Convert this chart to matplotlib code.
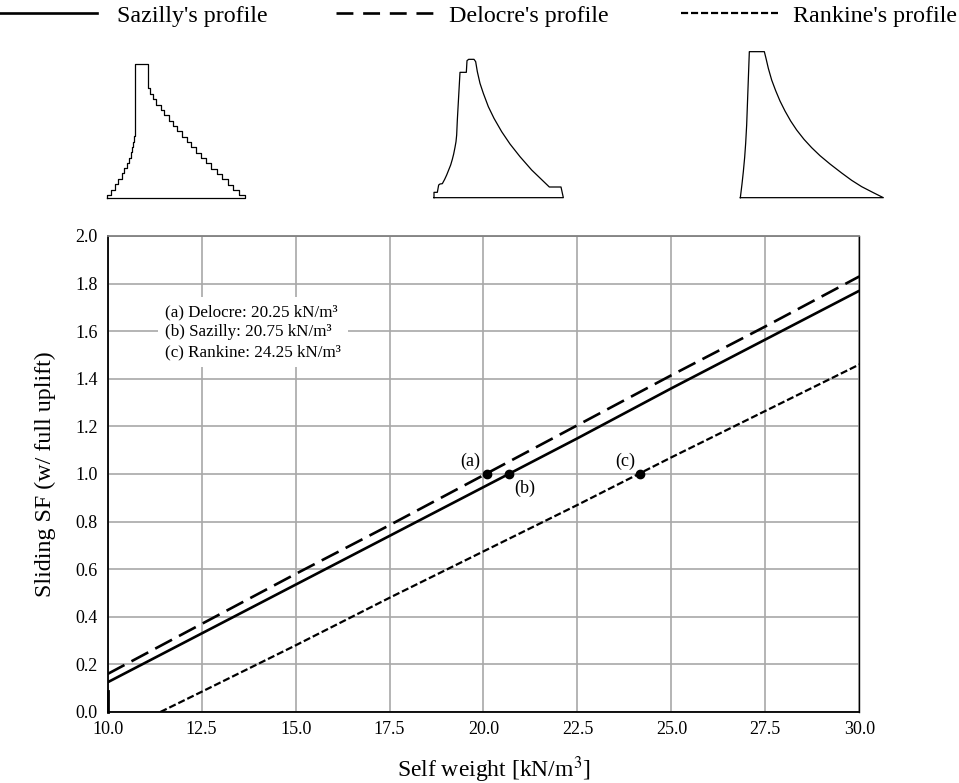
import matplotlib
matplotlib.use('Agg')
import matplotlib.pyplot as plt
from matplotlib.lines import Line2D

plt.rcParams['font.family'] = ['Liberation Serif', 'DejaVu Serif']

W, H = 959, 783

self_weight = [10.0, 12.5, 15.0, 17.5, 20.0, 22.5, 25.0, 27.5, 30.0]
sazilly_sf = [0.125, 0.33, 0.535, 0.74, 0.945, 1.15, 1.36, 1.565, 1.77]
delocre_sf = [0.16, 0.37, 0.58, 0.785, 0.995, 1.205, 1.415, 1.62, 1.83]
rankine_sf = [0.0, 0.085, 0.28, 0.48, 0.675, 0.87, 1.07, 1.265, 1.46]
rankine_weight = [11.4, 12.5, 15.0, 17.5, 20.0, 22.5, 25.0, 27.5, 30.0]
stub_x = [10.0, 10.0]
stub_y = [0.0, 0.09]

point_x = [20.1, 20.67, 24.16]
point_y = [1.0, 1.0, 1.0]
point_labels = ['(a)', '(b)', '(c)']

x_ticks = [10.0, 12.5, 15.0, 17.5, 20.0, 22.5, 25.0, 27.5, 30.0]
y_ticks = [0.0, 0.2, 0.4, 0.6, 0.8, 1.0, 1.2, 1.4, 1.6, 1.8, 2.0]

note_lines = ['(a) Delocre: 20.25 kN/m³', '(b) Sazilly: 20.75 kN/m³', '(c) Rankine: 24.25 kN/m³']
series_names = ["Sazilly's profile", "Delocre's profile", "Rankine's profile"]

# dam outlines (crop coordinates)
sazilly_x = [52, 52, 64, 64, 74, 74, 85, 85, 95, 95, 102, 102, 110, 110, 118, 118, 123, 123, 127, 127,
             130, 130, 133, 133, 135, 135, 175, 175, 181, 181, 190, 190, 199, 199, 212, 212, 223, 223,
             236, 236, 248, 248, 262, 262, 275, 275, 290, 290, 304, 304, 319, 319, 334, 334, 349, 349,
             364, 364, 380, 380, 397, 397, 413, 413, 429, 429, 446, 446, 465, 465, 52]
sazilly_y = [473, 466, 466, 450, 450, 433, 433, 417, 417, 400, 400, 385, 385, 369, 369, 353, 353, 337, 337, 321,
             321, 305, 305, 289, 289, 73, 73, 145, 145, 161, 161, 178, 178, 194, 194, 210, 210, 226,
             226, 242, 242, 258, 258, 274, 274, 290, 290, 306, 306, 322, 322, 338, 338, 354, 354, 370,
             370, 386, 386, 402, 402, 418, 418, 434, 434, 450, 450, 466, 466, 473, 473]
delocre_x = [42, 42, 52, 56, 60, 67, 74, 80, 86, 92, 97, 101, 105, 108, 110, 112, 120, 139, 141, 146, 162,
             167, 172, 180, 190, 205, 222, 245, 270, 300, 335, 388, 423, 430, 42]
delocre_y = [473, 457, 457, 435, 432, 431, 418, 405, 390, 375, 358, 342, 322, 305, 285, 240, 97, 97, 62, 58, 58,
             65, 95, 130, 160, 200, 235, 275, 312, 350, 390, 441, 441, 473, 473]
rankine_x = [31, 36, 40, 44, 47, 50, 52, 58, 103, 108, 115, 125, 137, 150, 165, 182, 200, 222, 245, 270,
             300, 335, 365, 395, 430, 460, 31]
rankine_y = [473, 432, 395, 352, 310, 255, 200, 35, 35, 55, 85, 120, 152, 183, 213, 243, 270, 298, 323, 347,
             372, 399, 421, 440, 458, 473, 473]


def px_axes(fig, left, top, width, height):
    return fig.add_axes([left / W, 1 - (top + height) / H, width / W, height / H])


fig = plt.figure(figsize=(W / 100, H / 100), dpi=100)

ax = px_axes(fig, 107.7, 236, 751.6, 476)
ax.set_xlim(10, 30)
ax.set_ylim(0, 2)
ax.set_xticks(x_ticks)
ax.set_yticks(y_ticks)
ax.set_xticklabels(['%.1f' % v for v in x_ticks])
ax.set_yticklabels(['%.1f' % v for v in y_ticks])
ax.tick_params(length=0, labelsize=13)
ax.tick_params(axis='x', pad=6.5)
ax.tick_params(axis='y', pad=7)
ax.grid(True, color='#a8a8a8', linewidth=1.2)
ax.set_axisbelow(True)
for side in ['left', 'bottom', 'right']:
    ax.spines[side].set_color('black')
    ax.spines[side].set_linewidth(1.0)
ax.spines['left'].set_linewidth(1.3)
ax.spines['bottom'].set_linewidth(1.3)
ax.spines['top'].set_color('#808080')
ax.spines['top'].set_linewidth(1.3)

ax.plot(self_weight, sazilly_sf, color='black', lw=1.9, solid_capstyle='butt')
ax.plot(self_weight, delocre_sf, color='black', lw=1.9, dashes=(7.2, 3.0))
ax.plot(rankine_weight, rankine_sf, color='black', lw=1.6, dashes=(3.2, 1.3))
ax.plot(stub_x, stub_y, color='black', lw=2.0, clip_on=False)
ax.plot(point_x, point_y, 'o', color='black', ms=6, zorder=5)

ax.annotate(point_labels[0], (point_x[0], point_y[0]), xytext=(-5, 9), textcoords='offset points',
            ha='right', va='center', fontsize=13)
ax.annotate(point_labels[1], (point_x[1], point_y[1]), xytext=(4, -10), textcoords='offset points',
            ha='left', va='center', fontsize=13)
ax.annotate(point_labels[2], (point_x[2], point_y[2]), xytext=(-3, 9), textcoords='offset points',
            ha='right', va='center', fontsize=13)

ax.text(0.0762, 0.798, '\n'.join(note_lines), transform=ax.transAxes, ha='left', va='center', fontsize=12.25,
        linespacing=1.34, bbox=dict(facecolor='white', edgecolor='none', pad=5))

fig.text(494 / W, 1 - 777 / H, 'Self weight [kN/m$^3$]', ha='center', va='baseline', fontsize=17,
         math_fontfamily='stix')
fig.text(45 / W, 1 - 474 / H, 'Sliding SF (w/ full uplift)', rotation=90, ha='center', va='center', fontsize=17.3)

for xs, ys, left in [(sazilly_x, sazilly_y, 90), (delocre_x, delocre_y, 420), (rankine_x, rankine_y, 730)]:
    inset = px_axes(fig, left, 40, 170, 170)
    inset.set_xlim(0, 510)
    inset.set_ylim(510, 0)
    inset.axis('off')
    inset.plot(xs, ys, color='black', lw=0.9)

handles = [Line2D([], [], color='black', lw=1.9),
           Line2D([], [], color='black', lw=1.9, dashes=(6.4, 3.7)),
           Line2D([], [], color='black', lw=1.6, dashes=(3.2, 1.3))]
legend_left = [0, 336, 681]
text_left = [117, 449, 793]
for handle, name, x0, tx in zip(handles, series_names, legend_left, text_left):
    fig.add_artist(handle)
    handle.set_transform(fig.transFigure)
    handle.set_data([x0 / W, (x0 + 97) / W], [1 - 13 / H, 1 - 13 / H])
    fig.text(tx / W, 1 - 22 / H, name, ha='left', va='baseline', fontsize=17.3)

fig.savefig('out.png', dpi=100)
